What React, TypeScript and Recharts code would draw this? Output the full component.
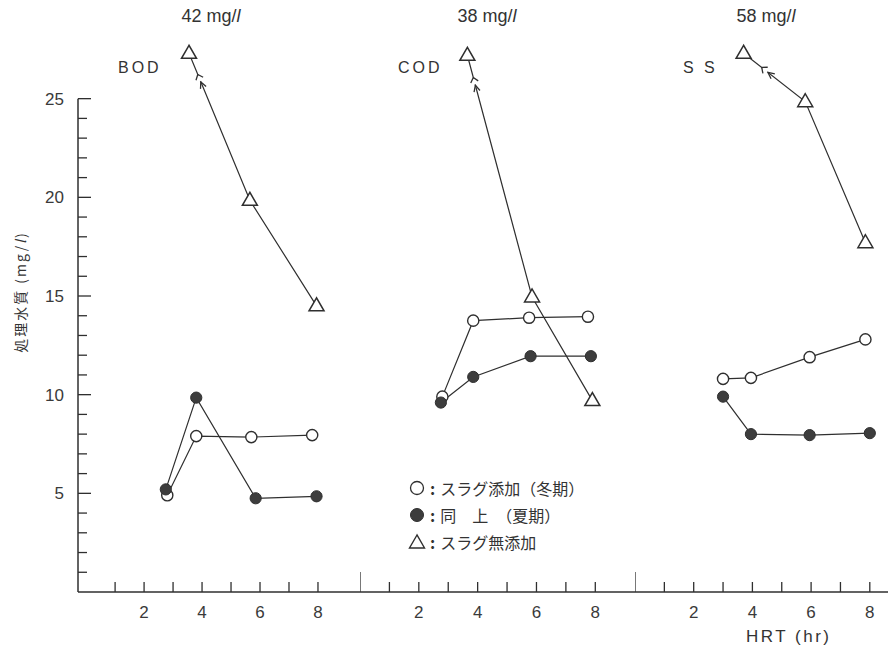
import { LineChart, Line, XAxis, YAxis, ReferenceLine, Legend } from 'recharts';

const INK = '#2f2f2f';
const NUM_FONT = '"Liberation Sans", Arial, sans-serif';
const JP_FONT = '"Noto Sans CJK JP", sans-serif';

// panel headings and influent values
const PANELS = ['BOD', 'COD', 'S S'];
const INFLOW = ['42', '38', '58'];

// HRT (hr) and treated water quality (mg/l)
const BOD_WINTER_HRT = [2.8, 3.8, 5.7, 7.8];
const BOD_WINTER = [4.9, 7.9, 7.85, 7.95];
const BOD_SUMMER_HRT = [2.75, 3.8, 5.85, 7.95];
const BOD_SUMMER = [5.2, 9.85, 4.75, 4.85];
const BOD_NONE_HRT = [3.55, 5.65, 7.95];
const BOD_NONE = [27.3, 19.85, 14.5];

const COD_WINTER_HRT = [2.8, 3.85, 5.75, 7.75];
const COD_WINTER = [9.9, 13.75, 13.9, 13.95];
const COD_SUMMER_HRT = [2.75, 3.85, 5.8, 7.85];
const COD_SUMMER = [9.6, 10.9, 11.95, 11.95];
const COD_NONE_HRT = [3.65, 5.85, 7.9];
const COD_NONE = [27.2, 14.95, 9.7];

const SS_WINTER_HRT = [3.0, 3.95, 5.95, 7.85];
const SS_WINTER = [10.8, 10.85, 11.9, 12.8];
const SS_SUMMER_HRT = [3.0, 3.95, 5.95, 8.0];
const SS_SUMMER = [9.9, 8.0, 7.95, 8.05];
const SS_NONE_HRT = [3.7, 5.8, 7.85];
const SS_NONE = [27.3, 24.85, 17.7];

const Y_TICKS = [1, 2, 3, 4, 5, 6, 7, 8, 9, 10, 11, 12, 13, 14, 15, 16, 17, 18, 19, 20, 21, 22, 23, 24, 25];
const X_TICKS_FIRST = [1, 2, 3, 4, 5, 6, 7, 8];
const X_TICKS = [0, 1, 2, 3, 4, 5, 6, 7, 8];

const LEGEND_LABELS = ['スラグ添加（冬期）', '同　上　（夏期）', 'スラグ無添加'];

const toPoints = (hrt: number[], vals: number[]) => hrt.map((h, i) => ({ hrt: h, v: vals[i] }));

const SERIES = [
  {
    winter: toPoints(BOD_WINTER_HRT, BOD_WINTER),
    summer: toPoints(BOD_SUMMER_HRT, BOD_SUMMER),
    none: toPoints(BOD_NONE_HRT, BOD_NONE),
  },
  {
    winter: toPoints(COD_WINTER_HRT, COD_WINTER),
    summer: toPoints(COD_SUMMER_HRT, COD_SUMMER),
    none: toPoints(COD_NONE_HRT, COD_NONE),
  },
  {
    winter: toPoints(SS_WINTER_HRT, SS_WINTER),
    summer: toPoints(SS_SUMMER_HRT, SS_SUMMER),
    none: toPoints(SS_NONE_HRT, SS_NONE),
  },
];

const OpenDot = (p: any) => (
  <circle key={p.key} cx={p.cx} cy={p.cy} r={5.6} fill="#fff" stroke={INK} strokeWidth={1.4} />
);

const FilledDot = (p: any) => (
  <circle key={p.key} cx={p.cx} cy={p.cy} r={5.6} fill="#3d3d3d" stroke={INK} strokeWidth={1} />
);

const triPath = (cx: number, cy: number) =>
  `M${cx},${cy - 8} L${cx - 7.5},${cy + 5} L${cx + 7.5},${cy + 5} Z`;

// first triangle is off scale: draw the break mark and arrowhead below it
const TriDot = (p: any) => {
  const { cx, cy, index, points } = p;
  const next = points && points[1];
  let brk = null;
  if (index === 0 && next) {
    const len = Math.hypot(next.x - cx, next.y - cy);
    const dx = (next.x - cx) / len;
    const dy = (next.y - cy) / len;
    const at = (d: number) => [cx + dx * d, cy + dy * d];
    const rot = (a: number, l: number, o: number[]) => {
      const c = Math.cos(a);
      const s = Math.sin(a);
      return [o[0] + (dx * c - dy * s) * l, o[1] + (dx * s + dy * c) * l];
    };
    const f = at(23);
    const t = at(31);
    const g0 = at(24);
    const g1 = at(30);
    const fa = rot(0.7, 6, f);
    const fb = rot(-0.7, 6, f);
    const ta = rot(0.45, 7, t);
    const tb = rot(-0.45, 7, t);
    brk = (
      <g>
        <line x1={g0[0]} y1={g0[1]} x2={g1[0]} y2={g1[1]} stroke="#fff" strokeWidth={4} />
        <line x1={f[0]} y1={f[1]} x2={fa[0]} y2={fa[1]} stroke={INK} strokeWidth={1.3} />
        <line x1={f[0]} y1={f[1]} x2={fb[0]} y2={fb[1]} stroke={INK} strokeWidth={1.3} />
        <line x1={t[0]} y1={t[1]} x2={ta[0]} y2={ta[1]} stroke={INK} strokeWidth={1.3} />
        <line x1={t[0]} y1={t[1]} x2={tb[0]} y2={tb[1]} stroke={INK} strokeWidth={1.3} />
      </g>
    );
  }
  return (
    <g key={p.key}>
      {brk}
      <path d={triPath(cx, cy)} fill="#fff" stroke={INK} strokeWidth={1.5} strokeLinejoin="miter" />
    </g>
  );
};

const XTick = (p: any) => {
  const { x, y, payload } = p;
  const v = payload.value;
  const h = v === 0 ? 20 : 10;
  return (
    <g>
      <line x1={x} x2={x} y1={y} y2={y - h} stroke={INK} strokeWidth={1.3} />
      {v !== 0 && v % 2 === 0 && (
        <text x={x} y={y + 26} textAnchor="middle" fontSize={17} fontFamily={NUM_FONT} fill="#3a3a3a">
          {v}
        </text>
      )}
    </g>
  );
};

const YTick = (p: any) => {
  const { x, y, payload } = p;
  const v = payload.value;
  const major = v % 5 === 0;
  return (
    <g>
      <line x1={x} x2={x + (major ? 13 : 9)} y1={y} y2={y} stroke={INK} strokeWidth={1.3} />
      {major && (
        <text x={x - 14} y={y + 6} textAnchor="end" fontSize={17} fontFamily={NUM_FONT} fill="#3a3a3a">
          {v}
        </text>
      )}
    </g>
  );
};

const LegendBox = () => {
  const marks = [
    <circle cx={9} cy={9} r={6.5} fill="#fff" stroke={INK} strokeWidth={1.3} />,
    <circle cx={9} cy={9} r={6.5} fill="#3d3d3d" stroke={INK} strokeWidth={1} />,
    <path d={triPath(9, 10)} fill="#fff" stroke={INK} strokeWidth={1.4} />,
  ];
  return (
    <div style={{ fontFamily: JP_FONT, fontSize: 16, color: '#333' }}>
      {LEGEND_LABELS.map((label, i) => (
        <div key={label} style={{ display: 'flex', alignItems: 'center', height: 27 }}>
          <svg width={18} height={18}>{marks[i]}</svg>
          <span style={{ marginLeft: 4, fontWeight: 700 }}>:</span>
          <span style={{ marginLeft: 5 }}>{label}</span>
        </div>
      ))}
    </div>
  );
};

const CHART_H = 653;
const MARGIN = { top: 0, right: 0, left: 0, bottom: 21 };

const PANEL_LAYOUT = [
  { left: 0, width: 360, domain: [-0.28, 9.45], ticks: X_TICKS_FIRST },
  { left: 360, width: 275, domain: [0, 9.35], ticks: X_TICKS },
  { left: 635, width: 253, domain: [0, 8.62], ticks: X_TICKS },
];

const TITLE_POS = [
  { name: 118, inflow: 211 },
  { name: 398, inflow: 487 },
  { name: 683, inflow: 766 },
];

export default function App() {
  return (
    <div style={{ position: 'absolute', left: 0, top: 0, width: 888, height: 653, background: '#fff' }}>
      {PANEL_LAYOUT.map((panel, pi) => {
        const s = SERIES[pi];
        return (
          <div key={pi} style={{ position: 'absolute', left: panel.left, top: 0 }}>
            <LineChart width={panel.width} height={CHART_H} margin={MARGIN}>
              <XAxis
                type="number"
                dataKey="hrt"
                domain={panel.domain}
                ticks={panel.ticks}
                interval={0}
                allowDataOverflow
                height={40}
                tickSize={0}
                tickMargin={0}
                tickLine={false}
                axisLine={{ stroke: INK, strokeWidth: 1.5 }}
                tick={<XTick />}
              />
              <YAxis
                type="number"
                domain={[0, 30]}
                ticks={Y_TICKS}
                interval={0}
                hide={pi !== 0}
                width={78}
                tickSize={0}
                tickMargin={0}
                tickLine={false}
                axisLine={false}
                tick={<YTick />}
              />
              {pi === 0 && (
                <ReferenceLine
                  segment={[{ x: panel.domain[0], y: 0 }, { x: panel.domain[0], y: 25 }]}
                  stroke={INK}
                  strokeWidth={1.5}
                />
              )}
              <Line data={s.winter} dataKey="v" stroke={INK} strokeWidth={1.2} dot={OpenDot} isAnimationActive={false} />
              <Line data={s.summer} dataKey="v" stroke={INK} strokeWidth={1.2} dot={FilledDot} isAnimationActive={false} />
              <Line data={s.none} dataKey="v" stroke={INK} strokeWidth={1.2} dot={TriDot} isAnimationActive={false} />
              {pi === 1 && (
                <Legend
                  layout="vertical"
                  align="center"
                  verticalAlign="middle"
                  content={<LegendBox />}
                  wrapperStyle={{ left: 48, top: 474, width: 'auto' }}
                />
              )}
            </LineChart>
          </div>
        );
      })}

      {PANELS.map((name, i) => (
        <div key={name}>
          <div
            style={{
              position: 'absolute',
              left: TITLE_POS[i].name,
              top: 59,
              fontFamily: NUM_FONT,
              fontSize: 16,
              letterSpacing: 3,
              color: '#333',
            }}
          >
            {name}
          </div>
          <div
            style={{
              position: 'absolute',
              left: TITLE_POS[i].inflow - 45,
              width: 90,
              textAlign: 'center',
              top: 6,
              fontFamily: NUM_FONT,
              fontSize: 18,
              color: '#333',
            }}
          >
            {INFLOW[i]} mg/<i>l</i>
          </div>
        </div>
      ))}

      <div
        style={{
          position: 'absolute',
          left: 20 - 80,
          top: 292 - 10,
          width: 160,
          height: 20,
          textAlign: 'center',
          transform: 'rotate(-90deg)',
          fontFamily: JP_FONT,
          fontSize: 14,
          letterSpacing: 2,
          color: '#333',
          lineHeight: '20px',
          whiteSpace: 'nowrap',
        }}
      >
        処理水質 (mg/<i>l</i>)
      </div>

      <div
        style={{
          position: 'absolute',
          left: 746,
          top: 627,
          fontFamily: NUM_FONT,
          fontSize: 17,
          letterSpacing: 2.5,
          color: '#333',
        }}
      >
        HRT (hr)
      </div>
    </div>
  );
}
